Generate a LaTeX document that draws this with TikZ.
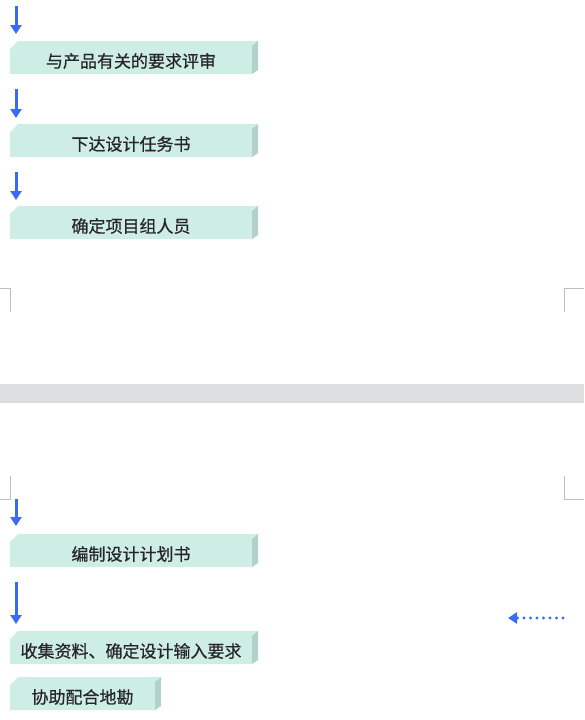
\documentclass[tikz,border=0pt]{standalone}
\usepackage{fontspec}
\setmainfont{Noto Sans CJK SC}
\newfontfamily\boxfont[FakeBold=0.6]{Noto Sans CJK SC}
\usetikzlibrary{arrows.meta,shapes.misc}
\definecolor{boxfront}{RGB}{206,237,229}
\definecolor{boxside}{RGB}{180,208,202}
\definecolor{flowblue}{RGB}{58,108,242}
\definecolor{bandgray}{RGB}{221,222,224}
\definecolor{markgray}{RGB}{190,190,190}
\tikzset{
	stepbox/.style={chamfered rectangle, chamfered rectangle corners=north west,
		chamfered rectangle xsep=4pt, chamfered rectangle ysep=4pt,
		fill=boxfront, draw=none, anchor=north, inner sep=0pt, outer sep=0pt,
		minimum height=33pt, text height=22pt, text depth=2pt,
		font=\boxfont\fontsize{17}{17}\selectfont, text=black!85},
	flow/.style={draw=flowblue, line width=3pt, -{Triangle[width=11pt,length=9pt]}},
	dotflow/.style={draw=flowblue, line width=3.4pt, line cap=round, dash pattern=on 0pt off 6.5pt,
		-{Triangle[width=11pt,length=9pt]}},
	cropmark/.style={draw=markgray, line width=1pt}
}
\begin{document}
\begin{tikzpicture}[x=1pt,y=1pt]
			\useasboundingbox (0,0) rectangle (584,-720);
			% page gap
			\fill[bandgray] (0,-384) rectangle (584,-403);
			% crop marks
			\draw[cropmark] (0,-288) -- (10,-288) -- (10,-312);
			\draw[cropmark] (584,-288) -- (564,-288) -- (564,-312);
			\draw[cropmark] (0,-499) -- (10,-499) -- (10,-476);
			\draw[cropmark] (584,-499) -- (564,-499) -- (564,-476);
			% boxes
			\node[stepbox, minimum width=242pt] (review) at (131,-41) {与产品有关的要求评审};
			\node[stepbox, minimum width=242pt] (task) at (131,-124) {下达设计任务书};
			\node[stepbox, minimum width=242pt] (team) at (131,-206) {确定项目组人员};
			\node[stepbox, minimum width=242pt] (plan) at (131,-534) {编制设计计划书};
			\node[stepbox, minimum width=242pt] (input) at (131,-631) {收集资料、确定设计输入要求};
			\node[stepbox, minimum width=145pt] (survey) at (82.5,-677) {协助配合地勘};
			\foreach \n in {review,task,team,plan,input,survey}{
				\fill[boxfront] (\n.north east) -- ++(6,0) -- ([yshift=-5pt]\n.north east) -- cycle;
				\fill[boxside] ([yshift=-5pt]\n.north east) -- ++(6,5) -- ([xshift=6pt,yshift=4pt]\n.south east) -- (\n.south east) -- cycle;
			}
			% arrows
			\coordinate (a1s) at (16,-6);   \coordinate (a1e) at (16,-34);
			\coordinate (a2s) at (16,-89);  \coordinate (a2e) at (16,-118);
			\coordinate (a3s) at (16,-172); \coordinate (a3e) at (16,-200);
			\coordinate (a4s) at (16,-499); \coordinate (a4e) at (16,-526);
			\coordinate (a5s) at (16,-582); \coordinate (a5e) at (16,-624);
			\coordinate (d1) at (563,-618); \coordinate (d2) at (508,-618);
			\draw[flow] (a1s) -- (a1e);
			\draw[flow] (a2s) -- (a2e);
			\draw[flow] (a3s) -- (a3e);
			\draw[flow] (a4s) -- (a4e);
			\draw[flow] (a5s) -- (a5e);
			\draw[dotflow] (d1) -- (d2);
		\end{tikzpicture}
\end{document}
